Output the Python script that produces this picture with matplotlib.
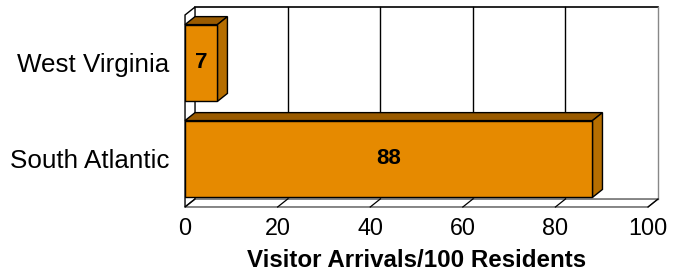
import matplotlib.pyplot as plt
from matplotlib.patches import Polygon

plt.rcParams['font.family'] = ['Liberation Sans', 'DejaVu Sans']

categories = ['South Atlantic', 'West Virginia']
values = [88, 7]
xticks = [0, 20, 40, 60, 80, 100]
xlabel = 'Visitor Arrivals/100 Residents'

front_col = '#E68A00'
top_col = '#9A5B00'
side_col = '#B66E00'

# depth of the fake 3d effect, in data units
dx = 2.16
dy = 0.083
bh = 0.8
y0, y1 = -0.5, 1.5

fig = plt.figure(figsize=(6.78, 2.73), dpi=100)
ax = fig.add_axes([0.2729, 0.2418, 0.6829, 0.7033])
ax.set_xlim(0, 100)
ax.set_ylim(y0, y1)
for s in ax.spines.values():
    s.set_visible(False)

# back wall
ax.add_patch(Polygon([(dx, y0 + dy), (100 + dx, y0 + dy), (100 + dx, y1 + dy), (dx, y1 + dy)],
                     closed=True, facecolor='white', edgecolor='none', clip_on=False, zorder=0))
ax.plot([dx, 100 + dx], [y1 + dy, y1 + dy], color='black', lw=1.2, clip_on=False, zorder=1)
for t in xticks[1:]:
    c = '#888888' if t == 100 else 'black'
    ax.plot([t + dx, t + dx], [y0 + dy, y1 + dy], color=c, lw=1.0, clip_on=False, zorder=1)

# left side wall
ax.add_patch(Polygon([(0, y0), (dx, y0 + dy), (dx, y1 + dy), (0, y1)],
                     closed=True, facecolor='white', edgecolor='black', lw=1.0,
                     clip_on=False, zorder=2))

# floor
ax.add_patch(Polygon([(0, y0), (100, y0), (100 + dx, y0 + dy), (dx, y0 + dy)],
                     closed=True, facecolor='white', edgecolor='#555555', lw=1.0,
                     clip_on=False, zorder=2))
for t in xticks:
    ax.plot([t, t + dx], [y0, y0 + dy], color='black', lw=0.9, clip_on=False, zorder=2)

# bars
for i, v in enumerate(values):
    ax.barh(i, v, height=bh, color=front_col, edgecolor='black', lw=1.0, zorder=4)
    b, t = i - bh / 2, i + bh / 2
    ax.add_patch(Polygon([(0, t), (v, t), (v + dx, t + dy), (dx, t + dy)], closed=True,
                         facecolor=top_col, edgecolor='black', lw=1.0, clip_on=False, zorder=3))
    ax.add_patch(Polygon([(v, b), (v + dx, b + dy), (v + dx, t + dy), (v, t)], closed=True,
                         facecolor=side_col, edgecolor='black', lw=1.0, clip_on=False, zorder=3))
    ax.text(v / 2, i, str(v), ha='center', va='center', fontsize=16, fontweight='bold', zorder=5)

ax.set_yticks(range(len(categories)))
ax.set_yticklabels(categories, fontsize=18.7)
ax.set_xticks(xticks)
ax.set_xticklabels([str(t) for t in xticks], fontsize=16.8)
ax.tick_params(axis='both', length=0)
ax.tick_params(axis='x', pad=7)
ax.tick_params(axis='y', pad=11)
ax.set_xlabel(xlabel, fontsize=17.4, fontweight='bold', labelpad=7)

fig.savefig('out.png', dpi=100)
